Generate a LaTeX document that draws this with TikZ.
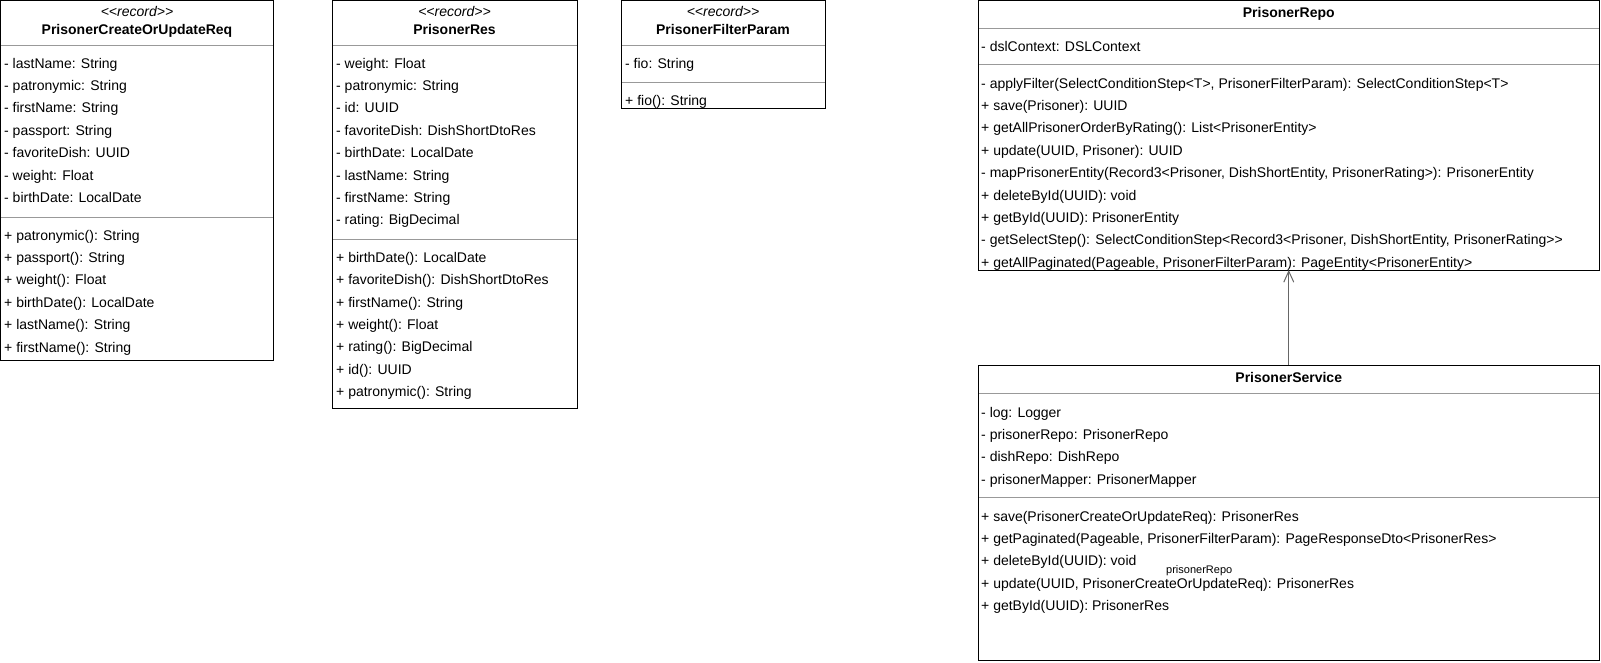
\documentclass[tikz,border=0pt]{standalone}
\usepackage{fontspec}
\newfontfamily\umlfont{Liberation Sans}
\usetikzlibrary{arrows.meta}
\tikzset{
  boxarea/.style={anchor=north west, inner sep=0pt, outer sep=0pt, fill=white},
  boxborder/.style={draw=black, line width=1pt},
  sepline/.style={draw=black!40, line width=1pt},
  member/.style={anchor=base west, inner sep=0pt, font=\umlfont\fontsize{14}{16}\selectfont},
  stereo/.style={anchor=base, inner sep=0pt, font=\umlfont\fontsize{14}{16}\selectfont\itshape},
  cname/.style={anchor=base, inner sep=0pt, font=\umlfont\fontsize{14}{16}\selectfont\bfseries},
  edgelabel/.style={anchor=base west, inner sep=0pt, font=\umlfont\fontsize{11}{13}\selectfont},
  assoc/.style={draw=black!60, line width=1pt, -{Straight Barb[length=11pt,width=10pt,line width=1pt]}},
}
\begin{document}
\begin{tikzpicture}[x=1pt,y=-1pt]
\useasboundingbox (0,0) rectangle (1601,662);

% ---------- class boxes (areas) ----------
\node[boxarea, minimum width=273pt, minimum height=360pt] (req) at (0.5,0.5) {};
\node[boxarea, minimum width=245pt, minimum height=407.5pt] (res) at (332,0.5) {};
\node[boxarea, minimum width=204pt, minimum height=107.5pt] (filt) at (621,0.5) {};
\node[boxarea, minimum width=621.5pt, minimum height=269.5pt] (repo) at (978,0.5) {};
\node[boxarea, minimum width=621.5pt, minimum height=295pt] (svc) at (978,365) {};

% ---------- PrisonerCreateOrUpdateReq ----------
\node[stereo] (req-st) at (137,16) {<\kern0pt<record>\kern0pt>};
\node[cname] (req-nm) at (137,34) {PrisonerCreateOrUpdateReq};
\foreach \t [count=\i] in {lastName: String, patronymic: String, firstName: String,
    passport: String, favoriteDish: UUID, weight: Float, birthDate: LocalDate}
  \node[member] (req-a\i) at (4,{68+22.4*(\i-1)}) {- \t};
\foreach \t [count=\i] in {patronymic(): String, passport(): String, weight(): Float,
    birthDate(): LocalDate, lastName(): String, firstName(): String}
  \node[member] (req-m\i) at (4,{240+22.4*(\i-1)}) {+ \t};

% ---------- PrisonerRes ----------
\node[stereo] (res-st) at (454.5,16) {<\kern0pt<record>\kern0pt>};
\node[cname] (res-nm) at (454.5,34) {PrisonerRes};
\foreach \t [count=\i] in {weight: Float, patronymic: String, id: UUID,
    favoriteDish: DishShortDtoRes, birthDate: LocalDate, lastName: String,
    firstName: String, rating: BigDecimal}
  \node[member] (res-a\i) at (336,{68+22.4*(\i-1)}) {- \t};
\foreach \t [count=\i] in {birthDate(): LocalDate, favoriteDish(): DishShortDtoRes,
    firstName(): String, weight(): Float, rating(): BigDecimal, id(): UUID,
    patronymic(): String}
  \node[member] (res-m\i) at (336,{262.3+22.4*(\i-1)}) {+ \t};

% ---------- PrisonerFilterParam ----------
\begin{scope}
\clip (filt.north west) rectangle (filt.south east);
\node[stereo] (filt-st) at (723,16) {<\kern0pt<record>\kern0pt>};
\node[cname] (filt-nm) at (723,34) {PrisonerFilterParam};
\node[member] (filt-a1) at (625,68) {- fio: String};
\node[member] (filt-m1) at (625,105) {+ fio(): String};
\end{scope}

% ---------- PrisonerRepo ----------
\begin{scope}
\clip (repo.north west) rectangle (repo.south east);
\node[cname] (repo-nm) at (1288.75,17) {PrisonerRepo};
\node[member] (repo-a1) at (981,51) {- dslContext: DSLContext};
\foreach \t [count=\i] in {
    {- applyFilter(SelectConditionStep<T>, PrisonerFilterParam): SelectConditionStep<T>},
    {+ save(Prisoner): UUID},
    {+ getAllPrisonerOrderByRating(): List<PrisonerEntity>},
    {+ update(UUID, Prisoner): UUID},
    {- mapPrisonerEntity(Record3<Prisoner, DishShortEntity, PrisonerRating>): PrisonerEntity},
    {+ deleteById(UUID): void},
    {+ getById(UUID): PrisonerEntity},
    {- getSelectStep(): SelectConditionStep<Record3<Prisoner, DishShortEntity, PrisonerRating>\kern0pt>},
    {+ getAllPaginated(Pageable, PrisonerFilterParam): PageEntity<PrisonerEntity>}}
  \node[member] (repo-m\i) at (981,{88+22.4*(\i-1)}) {\t};
\end{scope}

% ---------- PrisonerService ----------
\node[cname] (svc-nm) at (1288.75,382) {PrisonerService};
\foreach \t [count=\i] in {log: Logger, prisonerRepo: PrisonerRepo, dishRepo: DishRepo,
    prisonerMapper: PrisonerMapper}
  \node[member] (svc-a\i) at (981,{417+22.4*(\i-1)}) {- \t};
\foreach \t [count=\i] in {
    {save(PrisonerCreateOrUpdateReq): PrisonerRes},
    {getPaginated(Pageable, PrisonerFilterParam): PageResponseDto<PrisonerRes>},
    {deleteById(UUID): void},
    {update(UUID, PrisonerCreateOrUpdateReq): PrisonerRes},
    {getById(UUID): PrisonerRes}}
  \node[member] (svc-m\i) at (981,{521+22.4*(\i-1)}) {+ \t};

% ---------- compartment separators ----------
\draw[sepline] (0.5,45) -- (273.5,45);
\draw[sepline] (0.5,217) -- (273.5,217);
\draw[sepline] (332,45) -- (577,45);
\draw[sepline] (332,239) -- (577,239);
\draw[sepline] (621,45) -- (825,45);
\draw[sepline] (621,82) -- (825,82);
\draw[sepline] (978,28) -- (1599.5,28);
\draw[sepline] (978,64) -- (1599.5,64);
\draw[sepline] (978,393) -- (1599.5,393);
\draw[sepline] (978,497.5) -- (1599.5,497.5);

% ---------- box borders ----------
\foreach \b in {req,res,filt,repo,svc}
  \draw[boxborder] (\b.north west) rectangle (\b.south east);

% ---------- association ----------
\draw[assoc] (svc.north) -- (repo.south);
\node[edgelabel] (assoc-lbl) at (1166,573) {prisonerRepo};
\end{tikzpicture}
\end{document}
